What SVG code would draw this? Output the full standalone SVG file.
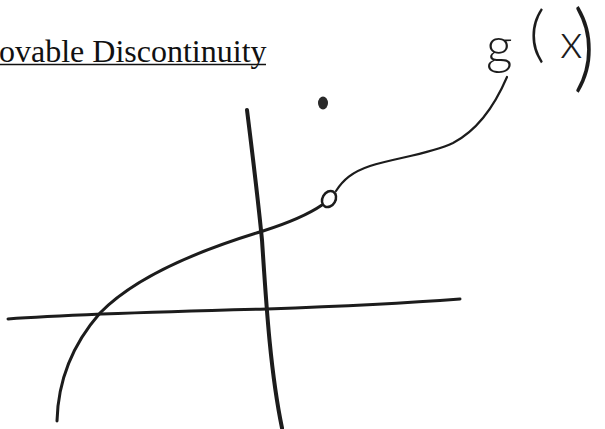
<svg xmlns="http://www.w3.org/2000/svg" width="605" height="429" viewBox="0 0 605 429">
  <style>
    .ink { fill: none; stroke: #1c1c1c; stroke-linecap: round; stroke-linejoin: round; }
    .title { font-family: "Liberation Serif", "Times New Roman", serif; font-size: 32px; fill: #111; }
    .hand { font-family: Lato, "Liberation Sans", sans-serif; font-weight: 300; fill: #1c1c1c; }
  </style>
  <rect width="605" height="429" fill="#ffffff"/>

  <g id="title">
    <text class="title" x="-1" y="62">ovable Discontinuity</text>
    <line x1="0" y1="64.5" x2="266" y2="64.5" stroke="#111" stroke-width="1.5"/>
  </g>

  <g id="label-gx">
    <text class="hand" x="486" y="64" font-size="52">g</text>
    <text class="hand" x="529" y="55" font-size="62">(</text>
    <text class="hand" x="560" y="58" font-size="48">x</text>
    <text class="hand" transform="translate(573,80) scale(1.75,1.95)" font-size="50">)</text>
  </g>

  <g id="axes">
    <path class="ink" stroke-width="3" d="M8,319 C60,315 150,312 267,309 C350,306 420,302 460,299"/>
    <path class="ink" stroke-width="4" d="M247,110 C252,150 258,200 262,240 C266,300 270,370 282,428"/>
  </g>

  <g id="curve">
    <path class="ink" stroke-width="3" d="M57,421 C58,380 72,345 100,313 C135,277 200,250 263,231 C285,224 306,216 322,205"/>
    <path class="ink" stroke-width="2.2" d="M336,191 C343,180 352,172 370,166 C395,158 430,154 453,143 C478,130 495,105 507,77"/>
  </g>

  <g id="hole">
    <ellipse class="ink" stroke-width="2.5" cx="329" cy="199" rx="6.5" ry="8.5" transform="rotate(30 329 199)"/>
  </g>

  <g id="dot">
    <ellipse cx="323" cy="103" rx="5" ry="6.5" fill="#2a2a2a"/>
  </g>
</svg>
